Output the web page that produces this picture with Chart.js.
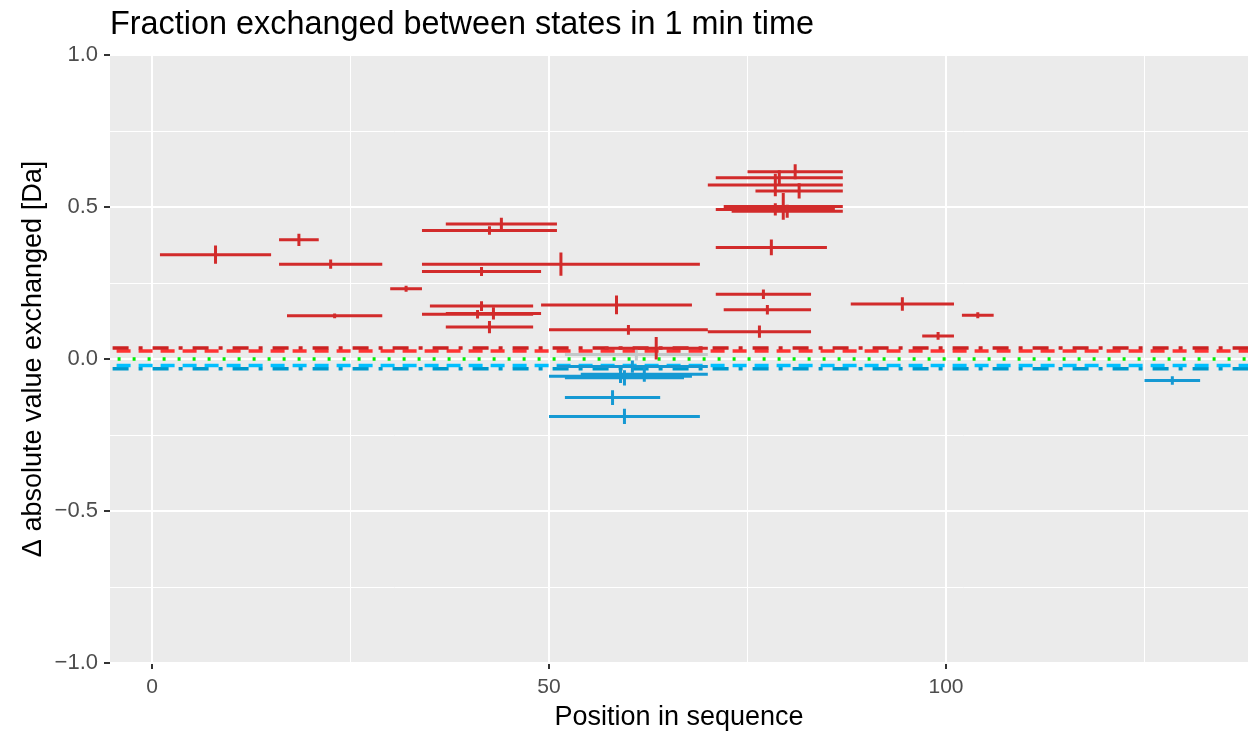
<!DOCTYPE html>
<html>
<head>
<meta charset="utf-8">
<script src="https://cdn.jsdelivr.net/npm/chart.js@4.4.1/dist/chart.umd.min.js"></script>
<style>
  html, body { margin: 0; padding: 0; background: #ffffff; }
  #wrap { width: 1248px; height: 732px; }
</style>
</head>
<body>
<div id="wrap"><canvas id="chart" width="1248" height="732"></canvas></div>
<script>
// Texts
const chartTitle = 'Fraction exchanged between states in 1 min time';
const xTitle = 'Position in sequence';
const yTitle = 'Δ absolute value exchanged [Da]';
const xTickLabels = [0, 50, 100];
const yTickLabels = [-1, -0.5, 0, 0.5, 1];

// Peptides with significant increase (red)
const upStart = [1, 16, 16, 17, 30, 37, 34, 34, 34, 35, 34, 37, 37, 49, 50, 57, 70,
                 75, 71, 70, 76, 72, 71, 73, 71, 71, 72, 88, 102, 97];
const upEnd   = [15, 21, 29, 29, 34, 51, 51, 69, 49, 48, 48, 49, 48, 68, 70, 70, 83,
                 87, 87, 87, 87, 87, 86, 87, 85, 83, 83, 101, 106, 101];
const upValue = [0.343, 0.392, 0.312, 0.142, 0.231, 0.444, 0.423, 0.312, 0.288, 0.174, 0.147, 0.150, 0.105, 0.178, 0.096, 0.035, 0.090,
                 0.616, 0.596, 0.572, 0.553, 0.502, 0.492, 0.486, 0.367, 0.213, 0.162, 0.181, 0.144, 0.076];
const upErr   = [0.030, 0.020, 0.015, 0.008, 0.010, 0.021, 0.014, 0.038, 0.015, 0.016, 0.014, 0.020, 0.020, 0.031, 0.016, 0.037, 0.020,
                 0.025, 0.025, 0.037, 0.025, 0.044, 0.020, 0.021, 0.026, 0.016, 0.016, 0.022, 0.010, 0.013];

// Peptides with significant decrease (blue)
const downStart = [50, 52, 54, 51, 52, 50, 125];
const downEnd   = [68, 67, 70, 70, 64, 69, 132];
const downValue = [-0.057, -0.062, -0.050, -0.025, -0.127, -0.189, -0.071];
const downErr   = [0.022, 0.025, 0.025, 0.020, 0.024, 0.025, 0.014];

// Not significant (grey)
const nsStart = [52];
const nsEnd   = [70];
const nsValue = [0.015];
const nsErr   = [0.020];

// Confidence limits
const limitValues = [0.036, 0.026, 0, -0.021, -0.032];
const limitColors = ['#cc2222', '#ff3333', '#00ee00', '#00bfff', '#0099cc'];
const limitDashes = [[16, 10, 4, 10], [14, 8], [3, 12], [14, 8], [16, 10, 4, 10]];

const RED = '#d22b2b';
const BLUE = '#1599d3';
const GREY = '#c3c9ca';
const FONT = '"Liberation Sans", Arial, sans-serif';

// horizontal segments, broken by null points
function segmentPoints(starts, ends, values) {
    const pts = [];
    starts.forEach((s, i) => {
        pts.push({ x: s, y: values[i] });
        pts.push({ x: ends[i], y: values[i] });
        pts.push({ x: ends[i], y: null });
    });
    return pts;
}

// vertical error bars at the middle of each segment
function errorPoints(starts, ends, values, errs) {
    const pts = [];
    starts.forEach((s, i) => {
        const mid = (s + ends[i]) / 2;
        pts.push({ x: mid, y: values[i] - errs[i] });
        pts.push({ x: mid, y: values[i] + errs[i] });
        pts.push({ x: mid, y: null });
    });
    return pts;
}

function lineSet(data, color, width) {
    return {
        data: data,
        borderColor: color,
        backgroundColor: color,
        borderWidth: width,
        pointRadius: 0,
        pointHoverRadius: 0,
        spanGaps: false,
        tension: 0,
        fill: false
    };
}

const datasets = [
    lineSet(errorPoints(upStart, upEnd, upValue, upErr), RED, 3),
    lineSet(segmentPoints(upStart, upEnd, upValue), RED, 3),
    lineSet(errorPoints(downStart, downEnd, downValue, downErr), BLUE, 3),
    lineSet(segmentPoints(downStart, downEnd, downValue), BLUE, 3),
    lineSet(errorPoints(nsStart, nsEnd, nsValue, nsErr), GREY, 3),
    lineSet(segmentPoints(nsStart, nsEnd, nsValue), GREY, 3)
];
limitValues.forEach((v, i) => {
    const ds = lineSet([{ x: -10, y: v }, { x: 150, y: v }], limitColors[i], 3.5);
    ds.borderDash = limitDashes[i];
    datasets.push(ds);
});

// grey panel behind the grid
const panelBackground = {
    id: 'panelBackground',
    beforeDraw(chart) {
        const { ctx, chartArea: a } = chart;
        ctx.save();
        ctx.fillStyle = '#ebebeb';
        ctx.fillRect(a.left, a.top, a.right - a.left, a.bottom - a.top);
        ctx.restore();
    }
};

// left aligned plot title, like ggplot
const plotTitle = {
    id: 'plotTitle',
    afterDraw(chart) {
        const { ctx, chartArea: a } = chart;
        ctx.save();
        ctx.font = '32.4px ' + FONT;
        ctx.fillStyle = '#000000';
        ctx.textBaseline = 'alphabetic';
        ctx.textAlign = 'left';
        ctx.fillText(chartTitle, a.left, 34);
        ctx.restore();
    }
};

const isMajorX = v => xTickLabels.includes(v);
const isMajorY = v => yTickLabels.some(t => Math.abs(t - v) < 1e-9);

new Chart(document.getElementById('chart').getContext('2d'), {
    type: 'line',
    data: { datasets: datasets },
    plugins: [panelBackground, plotTitle],
    options: {
        responsive: false,
        animation: false,
        layout: { padding: { top: 55, right: 0, bottom: 0, left: 0 } },
        plugins: {
            legend: { display: false },
            tooltip: { enabled: false },
            title: { display: false }
        },
        scales: {
            x: {
                type: 'linear',
                min: -5.29,
                max: 138.03,
                afterFit: s => { s.height = 69; },
                border: { display: false },
                grid: {
                    color: '#ffffff',
                    lineWidth: c => (c.tick && isMajorX(c.tick.value)) ? 2 : 1,
                    tickLength: 6,
                    tickWidth: 2,
                    tickColor: c => (c.tick && isMajorX(c.tick.value)) ? '#333333' : 'rgba(0,0,0,0)'
                },
                ticks: {
                    stepSize: 25,
                    includeBounds: false,
                    autoSkip: false,
                    maxRotation: 0,
                    padding: 6,
                    color: '#4d4d4d',
                    font: { family: FONT, size: 21 },
                    callback: v => isMajorX(v) ? String(v) : ''
                },
                title: {
                    display: true,
                    text: xTitle,
                    color: '#000000',
                    font: { family: FONT, size: 27, lineHeight: 1.0 },
                    padding: { top: 0, bottom: 1 }
                }
            },
            y: {
                type: 'linear',
                min: -1,
                max: 1,
                afterFit: s => { s.width = 110; },
                border: { display: false },
                grid: {
                    color: '#ffffff',
                    lineWidth: c => (c.tick && isMajorY(c.tick.value)) ? 2 : 1,
                    tickLength: 6,
                    tickWidth: 2,
                    tickColor: c => (c.tick && isMajorY(c.tick.value)) ? '#333333' : 'rgba(0,0,0,0)'
                },
                ticks: {
                    stepSize: 0.25,
                    autoSkip: false,
                    padding: 6,
                    color: '#4d4d4d',
                    font: { family: FONT, size: 22 },
                    callback: v => isMajorY(v) ? v.toFixed(1).replace('-', '−') : ''
                },
                title: {
                    display: true,
                    text: yTitle,
                    color: '#000000',
                    font: { family: FONT, size: 27 },
                    padding: { top: 17, bottom: 0 }
                }
            }
        }
    }
});
</script>
</body>
</html>
